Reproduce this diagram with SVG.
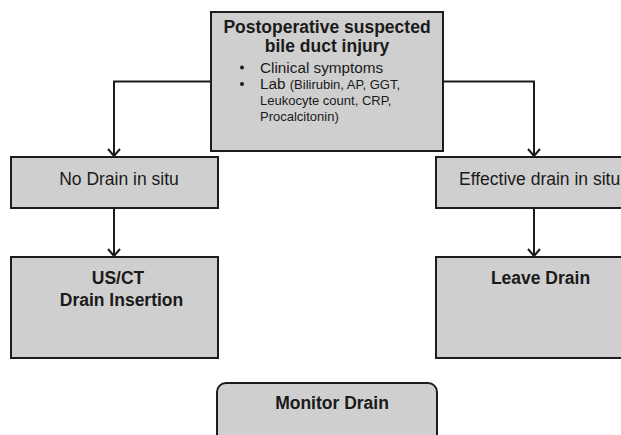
<svg xmlns="http://www.w3.org/2000/svg" width="621" height="435" viewBox="0 0 621 435">
<defs>
<marker id="arr" markerUnits="userSpaceOnUse" markerWidth="12" markerHeight="18" viewBox="-10 -9 12 18" refX="0" refY="0" orient="auto">
<path d="M-7,-6 L0,0 L-7,6" fill="none" stroke="#1a1a1a" stroke-width="2"/>
</marker>
<style>
.box{fill:#cfcfcf;stroke:#1c1c1c;stroke-width:2}
.t{font-family:"Liberation Sans",Arial,sans-serif;fill:#1a1a1a}
.b{font-weight:bold;font-size:17.5px}
.r{font-size:17.5px}
.c{text-anchor:middle}
.line{fill:none;stroke:#1a1a1a;stroke-width:2}
.arrow{fill:none;stroke:#1a1a1a;stroke-width:2;marker-end:url(#arr)}
</style>
</defs>
<rect width="621" height="435" fill="#ffffff"/>
<g id="connectors">
<path class="arrow" d="M211,81.5 H114 V156"/>
<path class="arrow" d="M443,81.5 H534 V156"/>
<path class="arrow" d="M114,208 V256"/>
<path class="arrow" d="M534,208 V256"/>
</g>
<g id="top">
<rect class="box" x="211" y="12" width="232" height="139"/>
<text class="t b c" x="327" y="33">Postoperative suspected</text>
<text class="t b c" x="327" y="52">bile duct injury</text>
<circle cx="242" cy="67.5" r="2" fill="#1a1a1a"/>
<circle cx="242" cy="84" r="2" fill="#1a1a1a"/>
<text class="t" x="260" y="72.5" font-size="15.3">Clinical symptoms</text>
<text class="t" x="260" y="89"><tspan font-size="15.3">Lab </tspan><tspan font-size="13">(Bilirubin, AP, GGT,</tspan></text>
<text class="t" x="260" y="105" font-size="13">Leukocyte count, CRP,</text>
<text class="t" x="260" y="121" font-size="13">Procalcitonin)</text>
</g>
<g id="nodrain">
<rect class="box" x="11" y="157" width="207" height="51"/>
<text class="t r c" x="119" y="185">No Drain in situ</text>
</g>
<g id="effective">
<rect class="box" x="436" y="157" width="200" height="51"/>
<text class="t r" x="459" y="185">Effective drain in situ</text>
</g>
<g id="usct">
<rect class="box" x="11" y="257" width="207" height="101"/>
<text class="t b c" x="118" y="283.5">US/CT</text>
<text class="t b c" x="121.5" y="305.5">Drain Insertion</text>
</g>
<g id="leave">
<rect class="box" x="436" y="257" width="200" height="101"/>
<text class="t b c" x="540.5" y="284">Leave Drain</text>
</g>
<g id="monitor">
<rect class="box" x="217" y="383" width="220" height="70" rx="9" ry="9"/>
<text class="t b c" x="332" y="409">Monitor Drain</text>
</g>
</svg>
